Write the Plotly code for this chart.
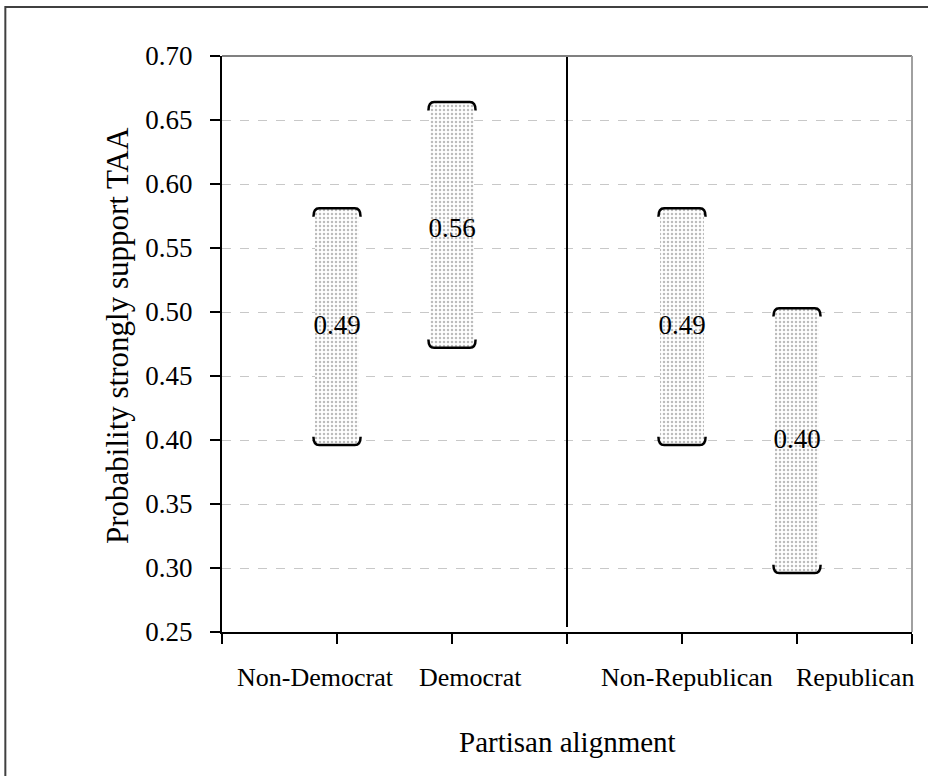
import plotly.graph_objects as go

# ---- data ----
categories = ["Non-Democrat", "Democrat", "Non-Republican", "Republican"]
positions = [1, 2, 4, 5]
low = [0.396, 0.472, 0.396, 0.296]
high = [0.581, 0.664, 0.581, 0.503]
estimate = [0.488, 0.564, 0.488, 0.399]
label_positions = [0.81, 2.16, 4.04, 5.50]
y_ticks = [0.25, 0.30, 0.35, 0.40, 0.45, 0.50, 0.55, 0.60, 0.65, 0.70]

FONT = "Liberation Serif, Times New Roman, serif"
bar_w = 0.38

fig = go.Figure()

fig.add_trace(go.Bar(
    x=positions,
    y=[h - l for h, l in zip(high, low)],
    base=low,
    width=bar_w,
    marker=dict(
        color="white",
        line=dict(width=0),
        pattern=dict(shape=".", fgcolor="#bcbcbc", bgcolor="white",
                     size=4, solidity=0.3, fillmode="replace"),
    ),
    hoverinfo="skip",
    showlegend=False,
))

fig.add_trace(go.Scatter(
    x=positions,
    y=estimate,
    mode="text",
    text=[f"{v:.2f}" for v in estimate],
    textposition="middle center",
    textfont=dict(family=FONT, size=27, color="black"),
    showlegend=False,
    hoverinfo="skip",
))

shapes = []
# brackets
hw = 0.205
cw = 0.05
leg = 0.0065
for c, l, h in zip(positions, low, high):
    top = (f"M {c-hw},{h-leg} Q {c-hw},{h} {c-hw+cw},{h} "
           f"L {c+hw-cw},{h} Q {c+hw},{h} {c+hw},{h-leg}")
    bot = (f"M {c-hw},{l+leg} Q {c-hw},{l} {c-hw+cw},{l} "
           f"L {c+hw-cw},{l} Q {c+hw},{l} {c+hw},{l+leg}")
    for p in (top, bot):
        shapes.append(dict(type="path", path=p, xref="x", yref="y",
                           line=dict(color="black", width=2.5)))

# separator line
shapes.append(dict(type="line", xref="x", yref="y", x0=3, x1=3,
                   y0=0.254, y1=0.70, line=dict(color="black", width=2)))
# top and right border of plot area (gray)
shapes.append(dict(type="line", xref="x domain", yref="y domain",
                   x0=0, x1=1, y0=1, y1=1, line=dict(color="#808080", width=2)))
shapes.append(dict(type="line", xref="x domain", yref="y domain",
                   x0=1, x1=1, y0=0, y1=1, line=dict(color="#a0a0a0", width=2)))
# outer frame
shapes.append(dict(type="rect", xref="paper", yref="paper",
                   x0=-0.3140, x1=1.05, y0=-0.30, y1=1.0850,
                   line=dict(color="#404040", width=2), fillcolor="rgba(0,0,0,0)",
                   layer="below"))

annotations = []
for name, xp in zip(categories, label_positions):
    annotations.append(dict(x=xp, y=0, xref="x", yref="paper", yshift=-45,
                            xanchor="center", yanchor="middle",
                            text=name, showarrow=False,
                            font=dict(family=FONT, size=26, color="black")))
annotations.append(dict(x=0.5, y=0, xref="paper", yref="paper", yshift=-110,
                        xanchor="center", yanchor="middle",
                        text="Partisan alignment", showarrow=False,
                        font=dict(family=FONT, size=29, color="black")))
annotations.append(dict(x=0, y=0.5, xref="paper", yref="paper", xshift=-105,
                        yshift=8, xanchor="center", yanchor="middle",
                        text="Probability strongly support TAA", showarrow=False,
                        textangle=-90,
                        font=dict(family=FONT, size=31, color="black")))

fig.update_layout(
    width=928, height=776,
    margin=dict(l=222, r=16, t=56, b=144, pad=0),
    paper_bgcolor="white", plot_bgcolor="white",
    font=dict(family=FONT, size=26, color="black"),
    shapes=shapes,
    annotations=annotations,
    bargap=0,
)
fig.update_xaxes(
    range=[0, 6], tickvals=[0, 1, 2, 3, 4, 5, 6], ticktext=[""] * 7,
    ticks="outside", ticklen=10, tickcolor="black", tickwidth=1.5,
    showline=True, linecolor="black", linewidth=2,
    showgrid=False, zeroline=False, fixedrange=True,
)
fig.update_yaxes(
    range=[0.25, 0.70], tickvals=y_ticks, tickformat=".2f",
    ticks="outside", ticklen=10, tickcolor="black", tickwidth=1.5,
    ticklabelstandoff=12,
    showline=True, linecolor="black", linewidth=2,
    showgrid=True, gridcolor="#c8c8c8", griddash="dash", gridwidth=1,
    zeroline=False, tickfont=dict(family=FONT, size=27, color="black"),
    fixedrange=True,
)

fig.write_html(
    "out.html",
    config={"displayModeBar": False},
    post_script="document.body.style.margin='0';document.body.style.overflow='hidden';",
)
